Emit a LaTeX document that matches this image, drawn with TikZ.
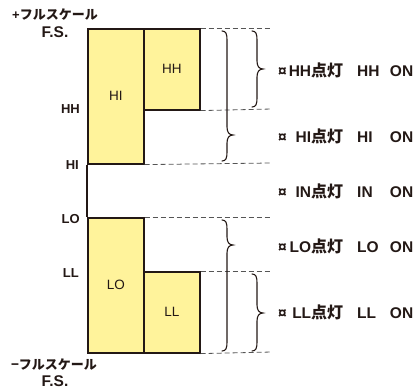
\documentclass[tikz,border=0pt]{standalone}
\usepackage{fontspec}
\setmainfont{Liberation Sans}
\newfontfamily\jp{Noto Sans CJK JP}
\definecolor{ink}{HTML}{231815}
\definecolor{boxfill}{HTML}{FFF39B}
\definecolor{dashgray}{HTML}{555555}
\newcommand{\cjkbig}[1]{{\jp\fontsize{16}{17}\selectfont #1}}
\newcommand{\onlabel}[2]{\hbox to 135pt{¤\hfill #1\cjkbig{点灯}\hspace{10pt}\hbox to 60pt{\hspace{4pt}#2\hfill ON}}}
\newcommand{\bracedraw}[4]{%
  \draw[bracestyle] (#1-5,#2) .. controls (#1-1,#2) and (#1,#2+3) .. (#1,#2+9)
    -- (#1,#3-8) .. controls (#1,#3-3) and (#1+2,#3) .. (#1+6,#3)
    .. controls (#1+2,#3) and (#1,#3+3) .. (#1,#3+8)
    -- (#1,#4-9) .. controls (#1,#4-3) and (#1-1,#4) .. (#1-5,#4);}
\begin{document}
\begin{tikzpicture}[x=1pt,y=-1pt,
  every node/.style={text=ink, inner sep=0pt},
  levelbox/.style={draw=ink, line width=1.6pt, fill=boxfill, minimum width=56pt,
    anchor=north west, font=\fontsize{13.5}{15}\selectfont},
  guide/.style={draw=dashgray, line width=0.8pt, dash pattern=on 5pt off 3pt},
  bracestyle/.style={draw=ink, line width=1.1pt, line cap=round},
  sidelabel/.style={anchor=east, font=\fontsize{13}{14}\selectfont\bfseries},
  scalelabel/.style={font=\fontsize{13}{14}\selectfont\bfseries},
  fslabel/.style={font=\fontsize{15.5}{17}\selectfont\bfseries},
  onlab/.style={anchor=west, font=\fontsize{15.5}{17}\selectfont\bfseries}]
\useasboundingbox (0,0) rectangle (414,390);
% boxes
\node[levelbox, minimum height=135pt] (hi) at (87,28) {HI};
\node[levelbox, minimum height=81pt] (hh) at (143,28) {HH};
\node[levelbox, minimum height=135pt] (lo) at (87,217) {LO};
\node[levelbox, minimum height=81pt] (ll) at (143,271) {LL};
% axis between HI and LO
\draw[ink, line width=1.4pt] (hi.south west) -- (lo.north west);
% guide line ends
\coordinate (g1) at (272,28);
\coordinate (g2) at (272,109);
\coordinate (g3) at (272,163);
\coordinate (g4) at (272,217);
\coordinate (g5) at (272,271);
\coordinate (g6) at (272,352);
\draw[guide] (hh.north east) -- (g1);
\draw[guide] (hh.south east) -- (g2);
\draw[guide] (hi.south east) -- (g3);
\draw[guide] (lo.north east) -- (g4);
\draw[guide] (ll.north east) -- (g5);
\draw[guide] (ll.south east) -- (g6);
% braces
\bracedraw{227}{31}{135}{161}
\bracedraw{257}{31}{69}{107}
\bracedraw{227}{220}{245}{351}
\bracedraw{257}{274}{313}{351}
% left labels
\node[scalelabel] (pfs) at (55,15) {+{\jp フルスケール}};
\node[fslabel] (pfs2) at (55,32) {F.S.};
\node[sidelabel] (lhh) at (80,109) {HH};
\node[sidelabel] (lhi) at (79,165) {HI};
\node[sidelabel] (llo) at (80,219) {LO};
\node[sidelabel] (lll) at (79,273) {LL};
\node[scalelabel] (mfs) at (54,365) {{\jp −フルスケール}};
\node[fslabel] (mfs2) at (55,381) {F.S.};
% right labels
\node[onlab] (thh) at (278,70) {\onlabel{HH}{HH}};
\node[onlab] (thi) at (278,136) {\onlabel{HI}{HI}};
\node[onlab] (tin) at (278,191) {\onlabel{IN}{IN}};
\node[onlab] (tlo) at (278,246) {\onlabel{LO}{LO}};
\node[onlab] (tll) at (278,312) {\onlabel{LL}{LL}};
\end{tikzpicture}
\end{document}
